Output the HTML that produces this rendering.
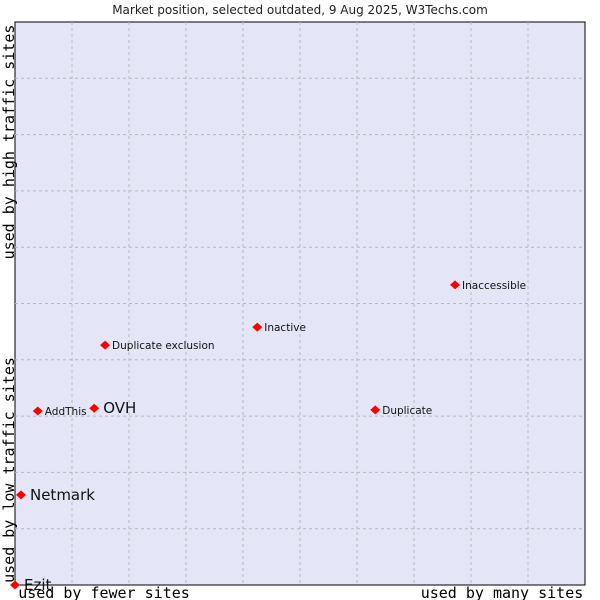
<!DOCTYPE html>
<html><head><meta charset="utf-8"><style>
body{margin:0;background:#fff;width:600px;height:600px;overflow:hidden}
svg{display:block}
</style></head><body>
<svg id="c" width="600" height="600">
<text x="300" y="14" text-anchor="middle" font-family="DejaVu Sans, sans-serif" font-size="12" fill="#222">Market position, selected outdated, 9 Aug 2025, W3Techs.com</text>
<rect x="15" y="22" width="570" height="563" fill="#e4e6f8" stroke="#000" stroke-width="1"/>
<g id="grid"></g>
<g id="pts"></g>
<text x="104" y="598" text-anchor="middle" font-family="DejaVu Sans Mono, monospace" font-size="15" fill="#000">used by fewer sites</text>
<text x="502" y="598" text-anchor="middle" font-family="DejaVu Sans Mono, monospace" font-size="15" fill="#000">used by many sites</text>
<text transform="translate(14,470) rotate(-90)" text-anchor="middle" font-family="DejaVu Sans Mono, monospace" font-size="15" fill="#000">used by low traffic sites</text>
<text transform="translate(14,142) rotate(-90)" text-anchor="middle" font-family="DejaVu Sans Mono, monospace" font-size="15" fill="#000">used by high traffic sites</text>
</svg>
<script>
const names=["Ezit","Netmark","AddThis","OVH","Duplicate exclusion","Inactive","Duplicate","Inaccessible"];
const xs=[0,1.05,4.0,13.9,15.8,42.5,63.2,77.2];
const ys=[0,16,30.9,31.4,42.6,45.8,31.1,53.3];
const big=[true,true,false,true,false,false,false,false];
const X=v=>15+v*5.7, Y=v=>585-v*5.63;
const ns="http://www.w3.org/2000/svg";
const g=document.getElementById('grid');
for(let i=1;i<10;i++){
 let l=document.createElementNS(ns,'line');
 
 
 l.setAttribute('x1',X(i*10));l.setAttribute('x2',X(i*10));l.setAttribute('y1',22);l.setAttribute('y2',585);
 l.setAttribute('stroke','#b8b8b8');l.setAttribute('stroke-dasharray','3,3');g.appendChild(l);
 let h=document.createElementNS(ns,'line');
 
 
 h.setAttribute('y1',Y(i*10));h.setAttribute('y2',Y(i*10));h.setAttribute('x1',15);h.setAttribute('x2',585);
 h.setAttribute('stroke','#b8b8b8');h.setAttribute('stroke-dasharray','3,3');g.appendChild(h);
}
const p=document.getElementById('pts');
names.forEach((n,i)=>{
 const cx=X(xs[i]),cy=Y(ys[i]);
 const d=document.createElementNS(ns,'path');
 
 
 d.setAttribute('d',`M${cx} ${cy-4.5}L${cx+5} ${cy}L${cx} ${cy+4.5}L${cx-5} ${cy}Z`);
 d.setAttribute('fill','#f00');p.appendChild(d);
 const t=document.createElementNS(ns,'text');
 
 
 t.setAttribute('x',cx+(big[i]?9:7));t.setAttribute('y',cy+(big[i]?5:4));
 t.setAttribute('font-family','DejaVu Sans, sans-serif');
 t.setAttribute('font-size',big[i]?15:10.5);t.setAttribute('fill','#111');
 t.textContent=n;p.appendChild(t);
});
</script>
</body></html>
